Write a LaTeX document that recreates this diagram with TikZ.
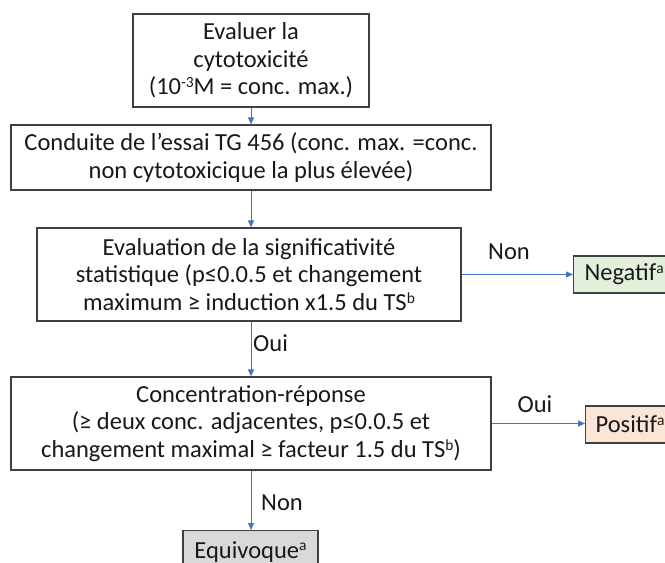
\documentclass[tikz,border=0pt]{standalone}
\usepackage{fontspec}
\setmainfont{Carlito}
\usetikzlibrary{arrows.meta}
\definecolor{arrowblue}{RGB}{68,114,196}
\definecolor{boxline}{RGB}{64,64,64}
\definecolor{negfill}{RGB}{226,239,218}
\definecolor{posfill}{RGB}{251,229,214}
\definecolor{eqfill}{RGB}{217,217,217}
\definecolor{txt}{RGB}{25,25,25}
\newcommand{\supa}[1]{\smash{\raisebox{0.3em}{\fontsize{15.5}{15.5}\selectfont #1}}}
\tikzset{
  box/.style={draw=boxline, line width=1.2pt, rectangle, inner sep=0pt, align=center,
    font=\fontsize{24.5}{27.5}\selectfont, text=txt},
  outbox/.style={draw=boxline, line width=1.2pt, rectangle, inner sep=0pt,
    font=\fontsize{24.5}{27.5}\selectfont, text=txt, anchor=west},
  arr/.style={draw=arrowblue, line width=1pt, -{Triangle[length=7pt,width=6pt]}},
  lbl/.style={font=\fontsize{24.5}{27.5}\selectfont, text=txt, inner sep=0pt}
}
\begin{document}
\begin{tikzpicture}[x=1pt,y=-1pt]
\useasboundingbox (0,0) rectangle (665,563);
\fill[white] (0,0) rectangle (665,563);
\node[box, minimum width=236pt, minimum height=93pt] (b1) at (251,60.5)
  {Evaluer la\\cytotoxicité\\(10\supa{-3}M = conc. max.)};
\node[box, minimum width=480pt, minimum height=65pt] (b2) at (251,157.5)
  {Conduite de l’essai TG 456 (conc. max. =conc.\\non cytotoxicique la plus élevée)};
\node[box, minimum width=424pt, minimum height=93pt] (b3) at (249,274.5)
  {Evaluation de la significativité\\statistique (p≤0.0.5 et changement\\maximum ≥ induction x1.5 du TS\supa{b}};
\node[box, minimum width=480pt, minimum height=93pt] (b4) at (251,423.5)
  {Concentration-réponse\\(≥ deux conc. adjacentes, p≤0.0.5 et\\changement maximal ≥ facteur 1.5 du TS\supa{b})};
\node[outbox, fill=negfill, minimum width=110pt, minimum height=37pt, text width=100pt, align=left] (neg) at (573,274.5)
  {\hspace*{6pt}Negatif\supa{a}};
\node[outbox, fill=posfill, minimum width=100pt, minimum height=37pt, text width=90pt, align=left] (pos) at (585,424.5)
  {\hspace*{5pt}Positif\supa{a}};
\node[box, fill=eqfill, minimum width=135pt, minimum height=42pt, anchor=north] (eq) at (250.5,530)
  {Equivoque\supa{a}};
\draw[arr] (b1.south) -- (b2.north);
\draw[arr] (b2.south) -- (b3.north -| b2.south);
\draw[arr] (b3.south -| b4.north) -- (b4.north);
\draw[arr] (b3.east) -- (neg.west);
\draw[arr] (b4.east) -- (b4.east -| pos.west);
\draw[arr] (b4.south) -- (eq.north -| b4.south);
\node[lbl] (l1) at (509,252) {Non};
\node[lbl, anchor=west] (l2) at (253,343) {Oui};
\node[lbl] (l3) at (535,404) {Oui};
\node[lbl] (l4) at (282,503) {Non};
\end{tikzpicture}
\end{document}
